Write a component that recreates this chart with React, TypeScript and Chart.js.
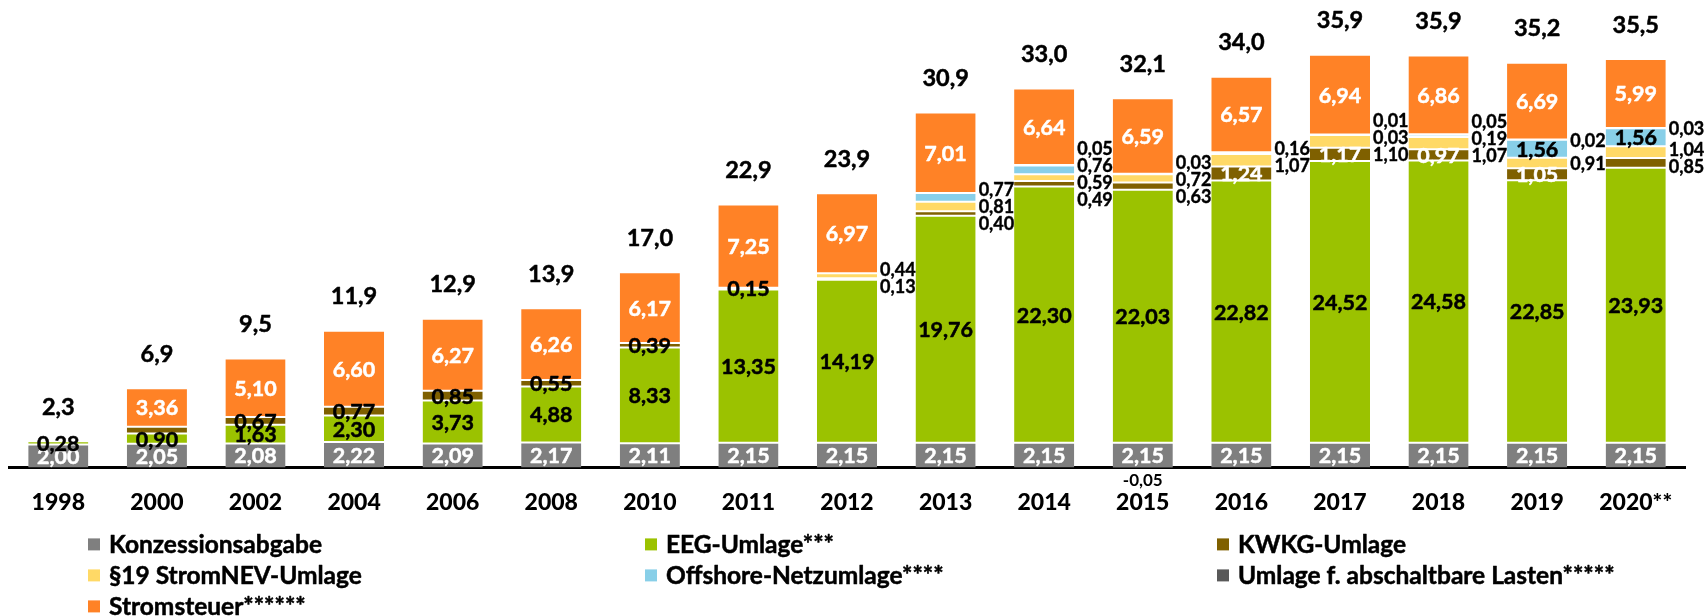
import React, { useEffect, useRef } from 'react';
import { Chart, registerables } from 'chart.js';

Chart.register(...registerables);

const years = ['1998', '2000', '2002', '2004', '2006', '2008', '2010', '2011', '2012', '2013', '2014', '2015', '2016', '2017', '2018', '2019', '2020**'];

const konzession = [2.0, 2.05, 2.08, 2.22, 2.09, 2.17, 2.11, 2.15, 2.15, 2.15, 2.15, 2.15, 2.15, 2.15, 2.15, 2.15, 2.15];
const eeg = [0.28, 0.9, 1.63, 2.3, 3.73, 4.88, 8.33, 13.35, 14.19, 19.76, 22.3, 22.03, 22.82, 24.52, 24.58, 22.85, 23.93];
const kwkg = [0, 0.59, 0.67, 0.77, 0.85, 0.55, 0.39, 0.15, 0.13, 0.4, 0.49, 0.63, 1.24, 1.17, 0.97, 1.05, 0.85];
const stromNev19 = [0, 0, 0, 0, 0, 0, 0, 0, 0.44, 0.81, 0.59, 0.72, 1.07, 1.1, 1.07, 0.91, 1.04];
const offshore = [0, 0, 0, 0, 0, 0, 0, 0, 0, 0.77, 0.76, -0.05, 0.16, 0.03, 0.19, 1.56, 1.56];
const abschaltbar = [0, 0, 0, 0, 0, 0, 0, 0, 0, 0, 0.05, 0.03, 0, 0.01, 0.05, 0.02, 0.03];
const stromsteuer = [0, 3.36, 5.1, 6.6, 6.27, 6.26, 6.17, 7.25, 6.97, 7.01, 6.64, 6.59, 6.57, 6.94, 6.86, 6.69, 5.99];
const totals = [2.3, 6.9, 9.5, 11.9, 12.9, 13.9, 17.0, 22.9, 23.9, 30.9, 33.0, 32.1, 34.0, 35.9, 35.9, 35.2, 35.5];

const seriesNames = [
  'Konzessionsabgabe',
  'EEG-Umlage***',
  'KWKG-Umlage',
  '§19 StromNEV-Umlage',
  'Offshore-Netzumlage****',
  'Umlage f. abschaltbare Lasten*****',
  'Stromsteuer******',
];
const seriesValues = [konzession, eeg, kwkg, stromNev19, offshore, abschaltbar, stromsteuer];
const seriesColors = ['#7F7F7F', '#9BC200', '#7F6000', '#FFD966', '#88CFE8', '#595959', '#FF8226'];

const FONT = 'Lato, "Open Sans", sans-serif';

const fmt = (v: number, d = 2) => v.toFixed(d).replace('.', ',');

// how each value label is placed
function placement(s: number, j: number, v: number): string {
  if (v === 0) return 'none';
  switch (s) {
    case 0:
      return 'inWhite';
    case 1:
      return 'inBlack';
    case 2:
      if (j === 1) return 'none';
      if (j <= 7) return 'inBlack';
      if (j >= 12 && j <= 15) return 'inWhite';
      return 'right';
    case 3:
      return 'right';
    case 4:
      if (v < 0) return 'below';
      if (v >= 1) return 'inBlack';
      return 'right';
    case 5:
      return 'right';
    case 6:
      return 'inWhite';
  }
  return 'none';
}

function boldText(ctx: any, text: string, x: number, y: number, stroke: number) {
  ctx.fillText(text, x, y);
  if (stroke > 0) {
    ctx.lineWidth = stroke;
    ctx.strokeStyle = ctx.fillStyle;
    ctx.lineJoin = 'round';
    ctx.strokeText(text, x, y);
  }
}

const labelPlugin = {
  id: 'valueLabels',
  afterDatasetsDraw(chart: any) {
    const ctx = chart.ctx;
    const yScale = chart.scales.y;
    const area = chart.chartArea;
    ctx.save();
    ctx.textBaseline = 'middle';
    for (let j = 0; j < years.length; j++) {
      const rights: { v: number; cy: number }[] = [];
      let barX = 0;
      let barRight = 0;
      let topVal = 0;
      for (let s = 0; s < seriesValues.length; s++) {
        const v = seriesValues[s][j];
        const el = chart.getDatasetMeta(s).data[j];
        const p = el.getProps(['x', 'y', 'base', 'width'], true);
        barX = p.x;
        barRight = p.x + p.width / 2;
        if (v > 0) topVal += v;
        const mode = placement(s, j, v);
        const cy = (p.y + p.base) / 2;
        if (mode === 'inWhite' || mode === 'inBlack') {
          ctx.font = `bold 21.5px ${FONT}`;
          ctx.fillStyle = mode === 'inWhite' ? '#FFFFFF' : '#000000';
          ctx.textAlign = 'center';
          boldText(ctx, fmt(v), p.x, cy + 1, 0.5);
        } else if (mode === 'right') {
          rights.push({ v, cy });
        } else if (mode === 'below') {
          ctx.font = `bold 17px ${FONT}`;
          ctx.fillStyle = '#000000';
          ctx.textAlign = 'center';
          ctx.fillText(fmt(v), p.x, area.bottom + 13);
        }
      }
      // stacked labels right of the bar, spread apart
      rights.sort((a, b) => a.cy - b.cy);
      const pos = rights.map((r) => r.cy);
      const gap = 17;
      for (let it = 0; it < 80; it++) {
        for (let k = 0; k < pos.length - 1; k++) {
          const diff = pos[k + 1] - pos[k];
          if (diff < gap) {
            const d = (gap - diff) / 2;
            pos[k] -= d;
            pos[k + 1] += d;
          }
        }
      }
      ctx.font = `bold 18px ${FONT}`;
      ctx.fillStyle = '#000000';
      ctx.textAlign = 'left';
      rights.forEach((r, k) => boldText(ctx, fmt(r.v), barRight + 3, pos[k] + 1, 0.4));
      // total
      ctx.font = `bold 23.5px ${FONT}`;
      ctx.textAlign = 'center';
      boldText(ctx, fmt(totals[j], 1), barX, yScale.getPixelForValue(topVal) - 34, 0.5);
    }
    ctx.restore();
  },
  afterDraw(chart: any) {
    const ctx = chart.ctx;
    const area = chart.chartArea;
    const cols = [area.left + 79, area.left + 636, area.left + 1208];
    const rows = [area.bottom + 77, area.bottom + 108, area.bottom + 139];
    ctx.save();
    ctx.textBaseline = 'middle';
    ctx.textAlign = 'left';
    ctx.font = `bold 24.5px ${FONT}`;
    seriesNames.forEach((name, i) => {
      const cx = cols[i % 3];
      const cy = rows[Math.floor(i / 3)];
      ctx.fillStyle = seriesColors[i];
      ctx.fillRect(cx, cy - 6, 12, 12);
      ctx.fillStyle = '#000000';
      boldText(ctx, name, cx + 21, cy + 1, 0.5);
    });
    ctx.restore();
  },
};

export default function App() {
  const ref = useRef<HTMLCanvasElement | null>(null);
  useEffect(() => {
    document.body.style.margin = '0';
    document.body.style.overflow = 'hidden';
    if (!ref.current) return;
    const chart = new Chart(ref.current, {
      type: 'bar',
      data: {
        labels: years,
        datasets: seriesNames.map((name, i) => ({
          label: name,
          data: seriesValues[i],
          backgroundColor: seriesColors[i],
          borderColor: '#FFFFFF',
          borderWidth: { top: 1, bottom: 1, left: 0, right: 0 },
          borderSkipped: false,
          barPercentage: 0.61,
          categoryPercentage: 1,
        })),
      },
      options: {
        responsive: false,
        animation: false,
        devicePixelRatio: 1,
        layout: { padding: { top: 8, left: 9, right: 23, bottom: 79 } },
        plugins: { legend: { display: false }, tooltip: { enabled: false } },
        font: { family: FONT },
        scales: {
          x: {
            stacked: true,
            z: 1,
            grid: { display: false, drawTicks: false },
            border: { display: true, color: '#000000', width: 3 },
            ticks: { color: '#000000', padding: 21, font: { size: 23, weight: 900, family: FONT } },
          },
          y: { stacked: true, display: false, min: 0, max: 40 },
        },
      } as any,
      plugins: [labelPlugin],
    });
    return () => chart.destroy();
  }, []);
  return (
    <div style={{ width: 1708, height: 616, overflow: 'hidden' }}>
      <canvas ref={ref} width={1708} height={616} style={{ display: 'block' }} />
    </div>
  );
}
